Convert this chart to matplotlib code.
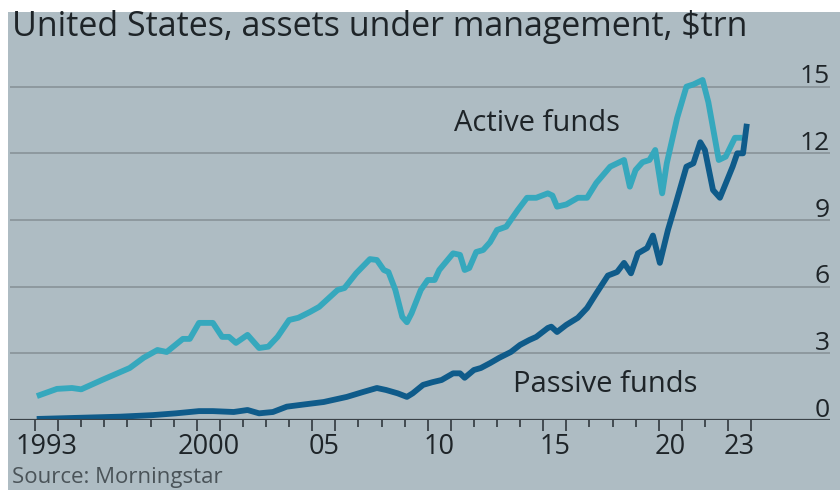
import matplotlib.pyplot as plt
from matplotlib.patches import Rectangle

# fractional years and $trn
active_t = [1993.2, 1993.95, 1994.6, 1995.0, 1995.9, 1997.1, 1997.7, 1998.3, 1998.7, 1999.4,
            1999.7, 2000.1, 2000.7, 2001.1, 2001.4, 2001.7, 2002.2, 2002.7, 2003.1, 2003.5,
            2004.0, 2004.4, 2004.9, 2005.3, 2006.1, 2006.4, 2006.9, 2007.5, 2007.8, 2008.1,
            2008.3, 2008.6, 2008.9, 2009.1, 2009.3, 2009.7, 2010.0, 2010.3, 2010.5, 2011.1,
            2011.4, 2011.6, 2011.8, 2012.1, 2012.4, 2012.7, 2013.0, 2013.4, 2013.9, 2014.3,
            2014.7, 2015.2, 2015.4, 2015.6, 2016.0, 2016.5, 2016.9, 2017.3, 2017.9, 2018.3,
            2018.5, 2018.75, 2019.0, 2019.3, 2019.6, 2019.85, 2020.15, 2020.35, 2020.8, 2021.2,
            2021.5, 2021.9, 2022.15, 2022.6, 2022.9, 2023.3, 2023.5]
active_v = [1.12, 1.4, 1.44, 1.38, 1.8, 2.34, 2.8, 3.15, 3.06, 3.65,
            3.65, 4.37, 4.37, 3.74, 3.74, 3.47, 3.83, 3.24, 3.3, 3.74,
            4.5, 4.6, 4.86, 5.09, 5.85, 5.94, 6.6, 7.24, 7.2, 6.75,
            6.66, 5.85, 4.64, 4.4, 4.8, 5.85, 6.3, 6.3, 6.75, 7.5,
            7.43, 6.75, 6.84, 7.56, 7.65, 8.0, 8.55, 8.7, 9.45, 10.0,
            10.0, 10.2, 10.1, 9.6, 9.7, 10.0, 10.0, 10.67, 11.4, 11.6,
            11.7, 10.5, 11.25, 11.6, 11.7, 12.15, 10.2, 11.55, 13.6, 15.0,
            15.1, 15.3, 14.3, 11.7, 11.85, 12.7, 12.7]

passive_t = [1993.2, 1996.7, 1998.1, 1999.1, 2000.1, 2000.7, 2001.6, 2002.2, 2002.7, 2003.3,
             2003.9, 2004.5, 2005.5, 2006.5, 2007.2, 2007.8, 2008.2, 2008.7, 2009.1, 2009.35,
             2009.8, 2010.2, 2010.6, 2011.1, 2011.4, 2011.6, 2012.0, 2012.3, 2012.7, 2013.1,
             2013.6, 2014.0, 2014.4, 2014.7, 2015.2, 2015.35, 2015.6, 2016.0, 2016.5, 2016.9,
             2017.3, 2017.8, 2018.2, 2018.5, 2018.8, 2019.1, 2019.5, 2019.75, 2020.05, 2020.4,
             2020.7, 2021.2, 2021.5, 2021.8, 2022.0, 2022.35, 2022.65, 2023.2, 2023.4, 2023.65,
             2023.8]
passive_v = [0.05, 0.15, 0.22, 0.3, 0.4, 0.4, 0.36, 0.45, 0.3, 0.36,
             0.6, 0.68, 0.81, 1.04, 1.26, 1.44, 1.35, 1.2, 1.04, 1.2,
             1.58, 1.7, 1.8, 2.1, 2.1, 1.9, 2.25, 2.34, 2.56, 2.8,
             3.06, 3.38, 3.6, 3.74, 4.14, 4.2, 3.96, 4.28, 4.6, 5.04,
             5.7, 6.5, 6.66, 7.07, 6.6, 7.5, 7.74, 8.3, 7.07, 8.55,
             9.6, 11.4, 11.55, 12.5, 12.15, 10.35, 10.0, 11.4, 12.0, 12.0,
             13.2]

y_ticks = [3, 6, 9, 12, 15]
x_label_years = [1993, 2000, 2005, 2010, 2015, 2020, 2023]
x_labels = ["1993", "2000", "05", "10", "15", "20", "23"]

BG = "#aebcc3"
GRID = "#8e999f"
ACTIVE = "#36a8bd"
PASSIVE = "#0f5b8a"
TEXT = "#1e2428"
FONT = "Open Sans"

W, H = 840, 490
fig = plt.figure(figsize=(W / 100, H / 100), dpi=100, facecolor="white")
fig.patches.append(Rectangle((8 / W, 0), 1, 1 - 12 / H, transform=fig.transFigure,
                             facecolor=BG, edgecolor="none", zorder=-5))

# axes box in pixels: x 10..830, y 60..420
ax = fig.add_axes([10 / W, 1 - 420 / H, 820 / W, 360 / H])
ax.set_facecolor("none")
ax.set_xlim(1993 - 25 / 23.1, 1993 + 795 / 23.1)
ax.set_ylim(0, 16.2)
for s in ax.spines.values():
    s.set_visible(False)

for v in [0] + y_ticks:
    if v:
        ax.axhline(v, color=GRID, linewidth=1.4, zorder=1)
    ax.text(1, v + 0.15, str(v), transform=ax.get_yaxis_transform(), ha="right", va="baseline",
            fontsize=19, color=TEXT, family=FONT)
ax.axhline(0, color="#3a4248", linewidth=1.6, zorder=4)

ax.plot(active_t, active_v, color=ACTIVE, linewidth=4.2, zorder=3)
ax.plot(passive_t, passive_v, color=PASSIVE, linewidth=4.2, zorder=3)

# year ticks at boundaries, longer ones around labelled years
bounds = list(range(1993, 2025))
long_ticks = set()
for y in x_label_years:
    long_ticks.update([y, y + 1])
ax.set_xticks([b for b in bounds if b in long_ticks])
ax.set_xticks([b for b in bounds if b not in long_ticks], minor=True)
ax.tick_params(axis="x", which="major", length=8, width=1.3, color="#3a4248", labelbottom=False)
ax.tick_params(axis="x", which="minor", length=5, width=1.3, color="#3a4248")
ax.set_yticks([])
for y, lab in zip(x_label_years, x_labels):
    ax.text(y + 0.5, -0.6, lab, ha="center", va="top", fontsize=19.5, color=TEXT, family=FONT)

ax.text(2011.15, 13.35, "Active funds", ha="left", va="center", fontsize=21, color=TEXT, family=FONT)
ax.text(2013.7, 1.6, "Passive funds", ha="left", va="center", fontsize=21, color=TEXT, family=FONT)

fig.text(12 / W, 1 - 27 / H, "United States, assets under management, $trn", ha="left", va="center",
         fontsize=24.5, color=TEXT, family=FONT)
fig.text(12 / W, 2 / H, "Source: Morningstar", ha="left", va="bottom",
         fontsize=16, color="#4a5358", family=FONT)

fig.savefig("out.png", dpi=100, facecolor="white")
